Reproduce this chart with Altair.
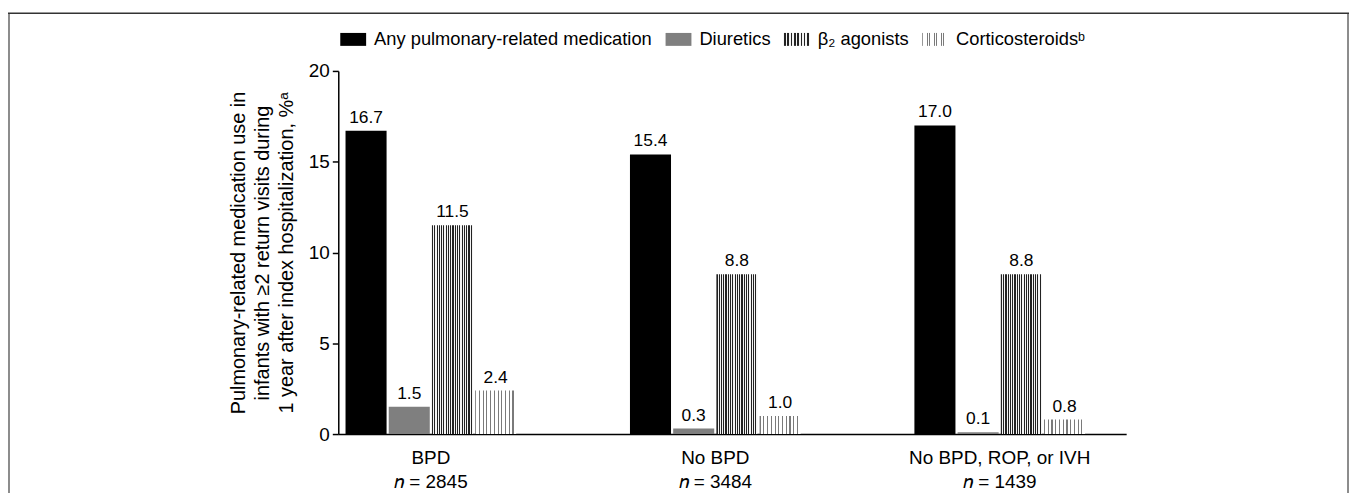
import altair as alt
import pandas as pd

# ---- data ----
groups = ["BPD", "No BPD", "No BPD, ROP, or IVH"]
n_values = [2845, 3484, 1439]
series = ["Any pulmonary-related medication", "Diuretics", "β₂ agonists", "Corticosteroidsᵇ"]
any_med = [16.7, 15.4, 17.0]
diuretics = [1.5, 0.3, 0.1]
beta2 = [11.5, 8.8, 8.8]
cortico = [2.4, 1.0, 0.8]
y_ticks = [0, 5, 10, 15, 20]
y_title = [
    "Pulmonary-related medication use in",
    "infants with ≥2 return visits during",
    "1 year after index hospitalization, %ᵃ",
]

values = [any_med, diuretics, beta2, cortico]
group_labels = [f"{g}|𝑛 = {n}" for g, n in zip(groups, n_values)]
rows = []
for gi, gl in enumerate(group_labels):
    for si, s in enumerate(series):
        rows.append({"group": gl, "series": s, "value": values[si][gi]})
df = pd.DataFrame(rows)

FONT = "Liberation Sans"


def stripes(c_on, c_off, n, duty):
    stops = []
    for i in range(n):
        a = i / n
        b = (i + duty) / n
        c = (i + 1) / n
        stops += [(a, c_on), (b, c_on), (b, c_off), (c, c_off)]
    s = ",".join("{offset:%.4f,color:'%s'}" % (o, col) for o, col in stops)
    return {"expr": "{gradient:'linear',x1:0,y1:0,x2:1,y2:0,stops:[%s]}" % s}


colors = [
    "#000000",
    "#7f7f7f",
    stripes("#222222", "#f4f4f4", 18, 0.5),
    stripes("#7a7a7a", "#ffffff", 11, 0.3),
]

x_enc = alt.X(
    "group:N",
    sort=group_labels,
    scale=alt.Scale(domain=group_labels, paddingInner=0.40, paddingOuter=0.085, align=0.15),
    axis=alt.Axis(
        title=None,
        ticks=False,
        labelAngle=0,
        labelExpr="split(datum.label, '|')",
        labelFontSize=19,
        labelLineHeight=24,
        labelPadding=15,
        labelColor="black",
        labelFont=FONT,
        labelLimit=400,
        domainColor="black",
        domainWidth=1.5,
    ),
)
xoff_enc = alt.XOffset("series:N", sort=series, scale=alt.Scale(domain=series, paddingInner=0.05))
y_enc = alt.Y(
    "value:Q",
    scale=alt.Scale(domain=[0, 20], nice=False),
    axis=alt.Axis(
        values=y_ticks,
        grid=False,
        tickSize=6,
        tickWidth=1.5,
        tickColor="black",
        domainColor="black",
        domainWidth=1.5,
        labelFontSize=19,
        labelPadding=3,
        labelColor="black",
        labelFont=FONT,
        title=y_title,
        titleFontSize=20,
        titleFontWeight="normal",
        titleFont=FONT,
        titleColor="black",
        titleLineHeight=24,
        titlePadding=12,
    ),
)

bars = alt.Chart(df).mark_bar().encode(
    x=x_enc,
    xOffset=xoff_enc,
    y=y_enc,
    color=alt.Color(
        "series:N",
        sort=series,
        scale=alt.Scale(domain=series, range=colors),
        legend=alt.Legend(
            orient="none",
            legendX=2,
            legendY=-45,
            direction="horizontal",
            title=None,
            symbolType="M-1,-0.5H1V0.5H-1Z",
            symbolSize=676,
            symbolStrokeWidth=0,
            labelFontSize=18.4,
            labelFont=FONT,
            labelColor="black",
            labelOffset=8,
            labelLimit=400,
            columnPadding=13,
        ),
    ),
)

labels = alt.Chart(df).mark_text(
    baseline="bottom", dy=-4, fontSize=17.5, font=FONT, color="black"
).encode(
    x=x_enc,
    xOffset=xoff_enc,
    y=y_enc,
    text=alt.Text("value:Q", format=".1f"),
)

frame_df = pd.DataFrame({"k": [0]})
frame_left = alt.Chart(frame_df).mark_rule(color="#8c8c8c", strokeWidth=2).encode(
    x=alt.value(-331), y=alt.value(-58), y2=alt.value(430)
)
frame_right = alt.Chart(frame_df).mark_rule(color="#8c8c8c", strokeWidth=2).encode(
    x=alt.value(1015), y=alt.value(-58), y2=alt.value(430)
)
frame_top = alt.Chart(frame_df).mark_rule(color="#333333", strokeWidth=1.5).encode(
    x=alt.value(-332), x2=alt.value(1016), y=alt.value(-58)
)

chart = alt.layer(bars, labels, frame_left, frame_right, frame_top).properties(
    width=792,
    height=365,
    autosize=alt.AutoSizeParams(type="none"),
    padding={"left": 332, "top": 62, "right": 225, "bottom": 58},
).configure(font=FONT).configure_view(stroke=None)

chart.save("out.html", embed_options={"renderer": "svg", "actions": False})
